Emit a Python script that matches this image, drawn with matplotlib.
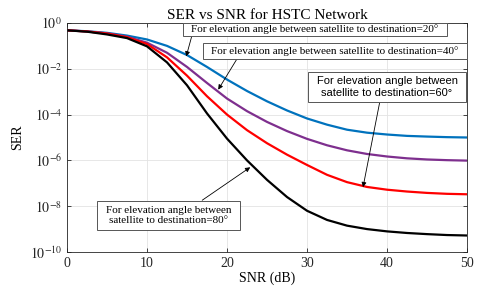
import matplotlib.pyplot as plt
import numpy as np

plt.rcParams['font.family'] = ['Liberation Serif', 'DejaVu Serif']
plt.rcParams['mathtext.fontset'] = 'stix'

# Data (SER stored as log10 exponents)
snr = [0, 2.5, 5, 7.5, 10, 12.5, 15, 17.5, 20, 22.5, 25, 27.5, 30,
       32.5, 35, 37.5, 40, 42.5, 45, 47.5, 50]
log_ser_20 = [-0.32, -0.36, -0.43, -0.55, -0.72, -1.0, -1.4, -1.92, -2.47, -2.97, -3.42,
              -3.82, -4.17, -4.44, -4.66, -4.79, -4.87, -4.93, -4.96, -4.985, -5.0]
log_ser_40 = [-0.32, -0.37, -0.45, -0.6, -0.86, -1.3, -1.92, -2.62, -3.3, -3.85, -4.32,
              -4.72, -5.06, -5.34, -5.56, -5.72, -5.83, -5.91, -5.96, -5.99, -6.01]
log_ser_60 = [-0.32, -0.37, -0.46, -0.62, -0.92, -1.5, -2.3, -3.2, -4.0, -4.68, -5.25,
              -5.75, -6.2, -6.63, -6.95, -7.16, -7.28, -7.36, -7.42, -7.46, -7.48]
log_ser_80 = [-0.32, -0.38, -0.5, -0.66, -1.02, -1.72, -2.72, -3.95, -5.05, -6.0, -6.85,
              -7.6, -8.2, -8.6, -8.85, -9.0, -9.1, -9.17, -9.22, -9.26, -9.28]

labels = ['For elevation angle between satellite to destination=20°',
          'For elevation angle between satellite to destination=40°',
          'For elevation angle between\nsatellite to destination=60°',
          'For elevation angle between\nsatellite to destination=80°']

fig = plt.figure(figsize=(4.8, 2.94), dpi=100)
ax = fig.add_axes([0.1396, 0.1429, 0.8334, 0.7789])

colors = ['#0072BD', '#7E2F8E', '#FF0000', '#000000']
for ys, c in zip([log_ser_20, log_ser_40, log_ser_60, log_ser_80], colors):
    ax.semilogy(snr, 10.0 ** np.array(ys), color=c, lw=1.6)

ax.set_xlim(0, 50)
ax.set_ylim(1e-10, 1)
ax.set_xticks([0, 10, 20, 30, 40, 50])
ax.set_yticks([1e-10, 1e-8, 1e-6, 1e-4, 1e-2, 1])
ax.set_yticklabels([r'$10^{-10}$', r'$10^{-8}$', r'$10^{-6}$', r'$10^{-4}$',
                    r'$10^{-2}$', r'$10^{0}$'])
ax.minorticks_off()
ax.tick_params(direction='in', top=True, right=True, labelsize=10, length=3,
               width=0.6, colors='#262626')
ax.grid(True, color='#e3e3e3', lw=0.6)
for s in ax.spines.values():
    s.set_color('#262626')
    s.set_linewidth(0.6)

ax.set_title('SER vs SNR for HSTC Network', fontsize=11, pad=3)
ax.set_xlabel('SNR (dB)', fontsize=10, labelpad=1)
ax.set_ylabel('SER', fontsize=10, labelpad=4)

# annotation boxes (axes fraction: x0, x1, y0, y1)
boxes = [(0.29, 0.95, 0.943, 1.0),
         (0.34, 1.0, 0.843, 0.913),
         (0.6025, 0.9975, 0.655, 0.786),
         (0.075, 0.4325, 0.096, 0.223)]
fams = [None, None, 'Liberation Sans', None]
for (x0, x1, y0, y1), lab, fam in zip(boxes, labels, fams):
    ax.add_patch(plt.Rectangle((x0, y0), x1 - x0, y1 - y0, transform=ax.transAxes,
                               fc='white', ec='#555555', lw=0.7, zorder=4, clip_on=False))
    kw = dict(family=fam) if fam else {}
    ax.text((x0 + x1) / 2, (y0 + y1) / 2, lab, transform=ax.transAxes, fontsize=8,
            ha='center', va='center', zorder=5, linespacing=1.15, **kw)

arrow = dict(arrowstyle='-|>', color='black', lw=0.6, mutation_scale=7,
             shrinkA=0, shrinkB=0)
ax.annotate('', xy=(14.9, 10 ** -1.46), xytext=(15.6, 10 ** -0.565), arrowprops=arrow)
ax.annotate('', xy=(18.9, 10 ** -2.91), xytext=(21.25, 10 ** -1.565), arrowprops=arrow)
ax.annotate('', xy=(37.0, 10 ** -7.17), xytext=(39.1, 10 ** -3.43), arrowprops=arrow)
ax.annotate('', xy=(22.9, 10 ** -6.3), xytext=(16.9, 10 ** -7.74), arrowprops=arrow)

fig.savefig('out.png', dpi=100)
